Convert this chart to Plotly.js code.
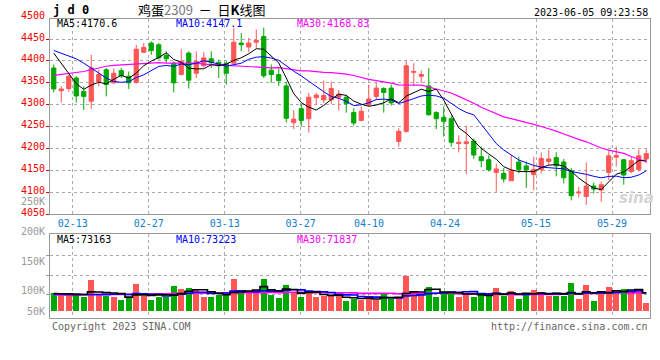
<!DOCTYPE html>
<html><head><meta charset="utf-8">
<script src="https://cdn.plot.ly/plotly-3.0.1.min.js"></script>
<style>html,body{margin:0;padding:0;background:#fff;}#chart{width:660px;height:360px;}</style>
</head><body><div id="chart"></div>
<script>
// ---- data ----
const dates = ['02-08','02-09','02-10','02-13','02-14','02-15','02-16','02-17','02-20','02-21','02-22','02-23','02-24','02-27','02-28',
'03-01','03-02','03-03','03-06','03-07','03-08','03-09','03-10','03-13','03-14','03-15','03-16','03-17','03-20','03-21','03-22','03-23','03-24','03-27','03-28','03-29','03-30','03-31',
'04-03','04-04','04-06','04-07','04-10','04-11','04-12','04-13','04-14','04-17','04-18','04-19','04-20','04-21','04-24','04-25','04-26','04-27','04-28',
'05-04','05-05','05-08','05-09','05-10','05-11','05-12','05-15','05-16','05-17','05-18','05-19','05-22','05-23','05-24','05-25','05-26','05-29','05-30','05-31',
'06-01','06-02','06-05'];
const tickLabels = ['02-13','02-27','03-13','03-27','04-10','04-24','05-15','05-29'];

const open = [4384,4332,4337,4361,4330,4308,4353,4380,4350,4378,
4365,4351,4420,4441,4437,4413,4395,4369,4418,4372,
4389,4405,4397,4395,4395,4441,4432,4443,4456,4379,
4369,4343,4259,4291,4268,4316,4311,4311,4317,4317,
4282,4264,4300,4319,4337,4338,4216,4239,4374,4365,
4343,4282,4271,4268,4211,4211,4217,4181,4174,4145,
4143,4126,4169,4160,4140,4152,4170,4179,4169,4149,
4098,4090,4114,4105,4145,4180,4174,4147,4152,4176];
const high = [4392,4342,4369,4365,4342,4414,4380,4384,4383,4384,
4376,4437,4441,4445,4441,4422,4399,4427,4422,4422,
4420,4422,4403,4399,4476,4464,4453,4472,4476,4392,
4382,4353,4288,4302,4327,4327,4355,4353,4334,4323,
4292,4296,4346,4350,4340,4346,4246,4401,4395,4378,
4384,4285,4296,4275,4230,4252,4223,4204,4184,4165,
4155,4185,4181,4170,4181,4191,4197,4191,4176,4155,
4112,4168,4122,4124,4194,4204,4176,4181,4197,4198];
const low = [4328,4305,4330,4305,4288,4290,4342,4319,4348,4361,
4336,4348,4418,4414,4403,4395,4328,4367,4337,4361,
4385,4384,4361,4346,4394,4422,4420,4430,4361,4350,
4343,4259,4244,4250,4236,4300,4304,4302,4287,4282,
4252,4262,4296,4311,4282,4298,4204,4236,4343,4350,
4275,4244,4227,4204,4191,4141,4176,4157,4147,4101,
4122,4126,4143,4110,4105,4143,4162,4136,4120,4081,
4088,4071,4097,4078,4128,4159,4117,4143,4147,4166];
const close = [4336,4336,4365,4320,4319,4384,4369,4346,4372,4366,
4350,4427,4431,4424,4407,4405,4350,4399,4356,4399,
4407,4396,4389,4372,4443,4437,4441,4447,4366,4369,
4355,4269,4267,4264,4317,4322,4321,4337,4324,4302,
4258,4285,4313,4338,4328,4304,4239,4389,4376,4369,
4277,4268,4262,4214,4214,4215,4185,4172,4151,4153,
4130,4149,4152,4151,4152,4177,4176,4160,4133,4092,
4100,4114,4107,4117,4183,4184,4139,4172,4183,4188];
const volume = [71800,67800,67800,65000,55600,126000,65000,58300,54200,44700,
54200,109800,58300,44700,55600,55600,101600,89400,93500,85400,
56900,56900,62300,62300,130000,71800,71800,85400,130000,65000,
52800,105700,75900,56900,81300,56900,58300,58300,58300,40700,
47400,44700,61000,44700,67800,47400,51500,139600,75900,65000,
97600,56900,78600,74500,56900,73200,56900,65000,58300,93500,
58300,81300,48800,70500,85400,74500,61000,61000,61000,111100,
46100,105700,40700,78600,94900,85400,89400,71800,89400,29800];

// moving-average values before enough in-window history exists
const ma5Head = [4418,4395,4372,4348];
const ma10Head = [4424,4418,4412,4405,4395,4384,4372,4361,4353];
const ma30Head = [4367,4369,4371,4373,4376,4380,4384,4388,4390,4391,4393,4394,4395,4395,4396,4395,4395,4395,4395,4395,
4393,4392,4391,4390,4389,4388,4387,4386,4385];
const volMa5Head = [70000,69000,68500,66500];
const volMa10Head = [67000,67000,66500,66500,66000,66000,66000,66500,67000];
const volMa30Head = [64000,64000,64500,64500,65000,65000,65500,65500,66000,66000,66500,67000,67500,68000,68500,
69000,69500,70000,70500,71000,71500,72000,72000,72500,72500,73000,73000,73500,73500];

const priceLabels = [4500,4450,4400,4350,4300,4250,4200,4150,4100,4050];
const volLabels = ['250K','200K','150K','100K','50K'];
const header = {ma5:'MA5:4170.6', ma10:'MA10:4147.1', ma30:'MA30:4168.83'};
const volHeader = {ma5:'MA5:73163', ma10:'MA10:73223', ma30:'MA30:71837'};
const titleText = '鸡蛋<span style="color:#777">2309</span>  －  日<b>K</b>线图';
const codeText = '<b>j d 0</b>';
const stamp = '2023-06-05 09:23:58';

// ---- helpers ----
function movingAvg(arr, n, head){
  return arr.map((v,i)=>{
    if(i < n-1) return head[i];
    let s=0; for(let j=i-n+1;j<=i;j++) s+=arr[j];
    return s/n;
  });
}
const N = dates.length;
const xs = dates.map((d,i)=>i);
const tickPos = tickLabels.map(d => -0.5 + dates.indexOf(d) * N / (N-1));
const UP = '#ff5555', DOWN = '#00a800';
const MONO = 'DejaVu Sans Mono';
const PX = x => (x - 50) / 600;
const PY = y => (318 - y) / 299;
const Y0 = 4050, Y1 = 4496;            // price axis range
const priceToPaper = v => (318 - 214) / 299 + (v - Y0) / (Y1 - Y0) * (1 - (318 - 214) / 299);

const traces = [
  {type:'candlestick', x:xs, open:open, high:high, low:low, close:close, xaxis:'x', yaxis:'y',
   increasing:{line:{color:UP,width:1}, fillcolor:UP}, decreasing:{line:{color:DOWN,width:1}, fillcolor:DOWN},
   whiskerwidth:0, hoverinfo:'skip', showlegend:false},
  {type:'scatter', mode:'lines', x:xs, y:movingAvg(close,30,ma30Head), line:{color:'#ff00ff',width:1.2}, hoverinfo:'skip'},
  {type:'scatter', mode:'lines', x:xs, y:movingAvg(close,10,ma10Head), line:{color:'#0000ff',width:1}, hoverinfo:'skip'},
  {type:'scatter', mode:'lines', x:xs, y:movingAvg(close,5,ma5Head), line:{color:'#000000',width:1}, hoverinfo:'skip'},
  {type:'bar', x:xs, y:volume, xaxis:'x2', yaxis:'y2', width:0.85,
   marker:{color:close.map((c,i)=> c>=open[i] ? UP : DOWN), line:{width:0}}, hoverinfo:'skip'},
  {type:'scatter', mode:'lines', x:xs, y:movingAvg(volume,30,volMa30Head), xaxis:'x2', yaxis:'y2', line:{color:'#ff00ff',width:1.6,shape:'hvh'}, hoverinfo:'skip'},
  {type:'scatter', mode:'lines', x:xs, y:movingAvg(volume,10,volMa10Head), xaxis:'x2', yaxis:'y2', line:{color:'#0000ff',width:1.6,shape:'hvh'}, hoverinfo:'skip'},
  {type:'scatter', mode:'lines', x:xs, y:movingAvg(volume,5,volMa5Head), xaxis:'x2', yaxis:'y2', line:{color:'#000000',width:1.6,shape:'hvh'}, hoverinfo:'skip'}
];

const ann = [];
function txt(text, x, y, opts){
  ann.push(Object.assign({text:text, xref:'paper', yref:'paper', x:PX(x), y:PY(y), showarrow:false,
    xanchor:'left', yanchor:'middle', font:{family:MONO, size:10, color:'#000'}}, opts||{}));
}
txt(codeText, 51, 10, {font:{family:MONO, size:12, color:'#000'}});
txt(titleText, 201, 9, {xanchor:'center', font:{family:'Noto Sans CJK SC', size:13, color:'#000'}});
txt(stamp, 650, 12, {xanchor:'right'});
txt(header.ma5, 55, 24);
txt(header.ma10, 174, 24, {font:{family:MONO,size:10,color:'#0000ff'}});
txt(header.ma30, 295, 24, {font:{family:MONO,size:10,color:'#ff00ff'}});
txt(volHeader.ma5, 55, 239);
txt(volHeader.ma10, 174, 239, {font:{family:MONO,size:10,color:'#0000ff'}});
txt(volHeader.ma30, 295, 239, {font:{family:MONO,size:10,color:'#ff00ff'}});
priceLabels.forEach(v => ann.push({text:String(v), xref:'paper', yref:'paper', x:PX(47), y:priceToPaper(v), yshift:2,
  showarrow:false, xanchor:'right', yanchor:'middle', font:{family:MONO,size:10,color:'#ee0000'}}));
const volLabelY = [201, 231, 261, 290, 311];
volLabels.forEach((t,i)=> txt(t, 47, volLabelY[i], {xanchor:'right', font:{family:MONO,size:10,color:'#999'}}));
txt('Copyright 2023 SINA.COM', 50, 326, {font:{family:MONO,size:10,color:'#666'}});
txt('http://finance.sina.com.cn', 650, 326, {xanchor:'right', font:{family:MONO,size:10,color:'#666'}});
txt('sina', 636, 198, {xanchor:'center', font:{family:'DejaVu Sans', size:15, color:'#d4d4d4', style:'italic', weight:'bold'}});

const gridDot = {showgrid:true, gridcolor:'#aaaaaa', griddash:'dot', gridwidth:1, zeroline:false,
  showline:true, mirror:true, linecolor:'#999', linewidth:1};

const layout = {
  width:660, height:360, margin:{l:50, r:10, t:19, b:42},
  paper_bgcolor:'#fff', plot_bgcolor:'#fff', showlegend:false, boxgap:0.2, bargap:0,
  xaxis: Object.assign({}, gridDot, {domain:[0,1], anchor:'y', range:[-0.5, N-0.5], tickmode:'array',
    tickvals:tickPos, ticktext:tickLabels, ticks:'', tickfont:{family:MONO,size:10,color:'#1380cc'},
    rangeslider:{visible:false}, fixedrange:true}),
  yaxis: Object.assign({}, gridDot, {domain:[(318-214)/299, 1], anchor:'x', range:[Y0, Y1],
    tickmode:'array', tickvals:[4050,4100,4150,4200,4250,4300,4350,4400,4450], showticklabels:false,
    ticks:'outside', ticklen:3, tickcolor:'#ee0000', fixedrange:true}),
  xaxis2: Object.assign({}, gridDot, {domain:[0,1], anchor:'y2', range:[-0.5, N-0.5], tickmode:'array',
    tickvals:tickPos, showticklabels:false, ticks:'', fixedrange:true}),
  yaxis2: Object.assign({}, gridDot, {domain:[0, (318-234.3)/299], anchor:'x2', range:[-29700, 310600],
    tickmode:'array', tickvals:[64000,144000,224000], showticklabels:false,
    ticks:'outside', ticklen:3, tickcolor:'#999', fixedrange:true}),
  annotations: ann
};
Plotly.newPlot('chart', traces, layout, {staticPlot:true, displayModeBar:false});
</script></body></html>
